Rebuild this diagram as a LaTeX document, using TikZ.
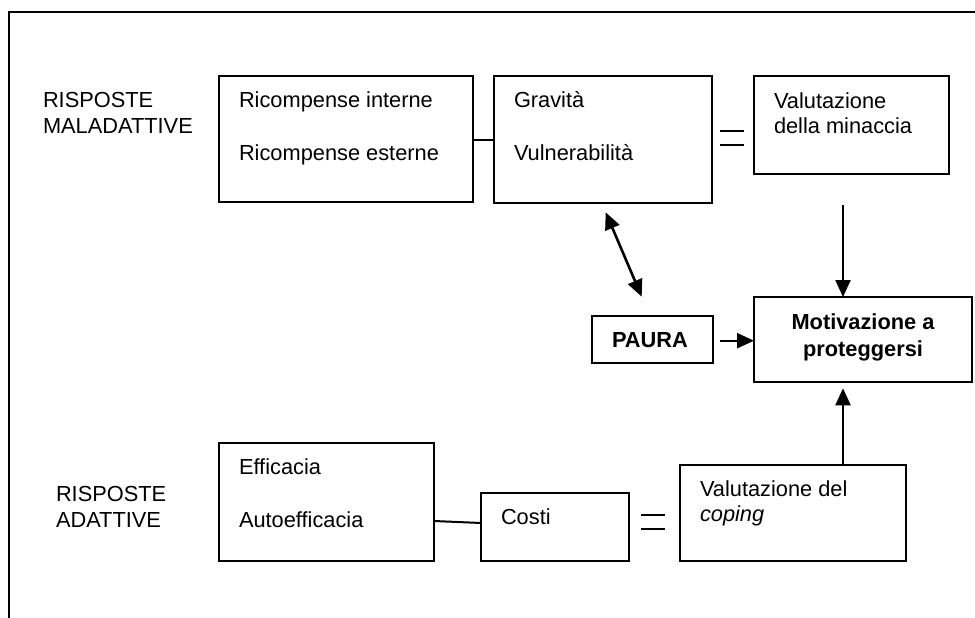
\documentclass[tikz,border=0pt]{standalone}
\usepackage{fontspec}
\setmainfont{Liberation Sans}
\usetikzlibrary{arrows.meta,calc}
\tikzset{
  box/.style={draw, line width=2pt, rectangle, inner sep=0pt, outer sep=0pt},
  txt/.style={inner sep=0pt, outer sep=0pt, anchor=base west, font=\fontsize{21.8}{26}\selectfont},
  btxt/.style={inner sep=0pt, outer sep=0pt, anchor=base, font=\fontsize{21.8}{26}\selectfont\bfseries},
  conn/.style={line width=2pt},
  eqline/.style={line width=2.6pt},
  arr/.style={line width=2.3pt, -{Triangle[length=17pt,width=15pt]}},
  darr/.style={line width=2.6pt, {Triangle[length=17pt,width=15pt]}-{Triangle[length=17pt,width=15pt]}},
}
\begin{document}
\begin{tikzpicture}[x=1pt, y=-1pt]
\useasboundingbox (0,0) rectangle (975,618);
% outer frame
\draw[line width=2pt] (9,618) -- (9,12) -- (975,12);

% boxes
\node[box, minimum width=254pt, minimum height=126pt] (b1) at (346,139) {};
\node[box, minimum width=218pt, minimum height=127pt] (b2) at (603,139.5) {};
\node[box, minimum width=195pt, minimum height=98pt] (b3) at (851.5,125) {};
\node[box, minimum width=121pt, minimum height=47pt] (pa) at (652,339.5) {};
\node[box, minimum width=218pt, minimum height=85pt] (mo) at (863,339.5) {};
\node[box, minimum width=215pt, minimum height=118pt] (ef) at (326.5,501.7) {};
\node[box, minimum width=148pt, minimum height=68pt] (co) at (555,526.5) {};
\node[box, minimum width=226pt, minimum height=96pt] (vc) at (793,512.5) {};

% texts
\node[txt] (l1a) at (43,107) {RISPOSTE};
\node[txt] (l1b) at (43,133) {MALADATTIVE};
\node[txt] (l2a) at (56,501.7) {RISPOSTE};
\node[txt] (l2b) at (56,527.3) {ADATTIVE};

\node[txt] (t1a) at (239,107) {Ricompense interne};
\node[txt] (t1b) at (239,160) {Ricompense esterne};
\node[txt] (t2a) at (514,107.3) {Gravità};
\node[txt] (t2b) at (514,160) {Vulnerabilità};
\node[txt] (t3a) at (774,108) {Valutazione};
\node[txt] (t3b) at (774,133) {della minaccia};
\node[btxt] (tpa) at (650,347.3) {PAURA};
\node[btxt] (tmoa) at (863,329.3) {Motivazione a};
\node[btxt] (tmob) at (863,356.5) {proteggersi};
\node[txt] (tefa) at (239,474) {Efficacia};
\node[txt] (tefb) at (239,527.3) {Autoefficacia};
\node[txt] (tco) at (501,524.3) {Costi};
\node[txt] (tvca) at (700,496) {Valutazione del};
\node[txt] (tvcb) at (700,521) {\itshape coping};

% connectors
\draw[conn] (b1.east |- 0,139.5) -- (b2.west |- 0,139.5);
\draw[conn] (ef.east |- 0,521) -- (co.west |- 0,523);
% equals signs
\draw[eqline] (720,131) -- (744,131) (720,145) -- (744,145);
\draw[eqline] (641,515) -- (665,515) (641,529) -- (665,529);

% arrows
\coordinate (d1) at (605.7,212.3);
\coordinate (d2) at (641.7,296.7);
\draw[darr] (d1) -- (d2);
\coordinate (a1) at (843,205);
\draw[arr] (a1) -- (a1 |- mo.north);
\coordinate (a2) at (843,388.3);
\draw[arr] (a2 |- vc.north) -- (a2);
\coordinate (a3) at (720,340.7);
\draw[arr] (a3) -- (a3 -| mo.west);
\end{tikzpicture}
\end{document}
